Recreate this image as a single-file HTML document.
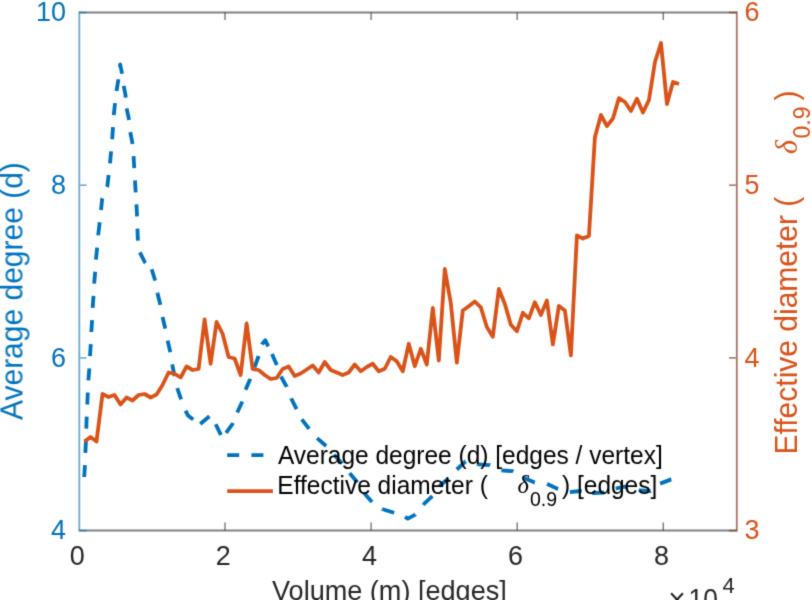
<!DOCTYPE html>
<html><head><meta charset="utf-8"><style>
html,body{margin:0;padding:0;background:#fff;}
body{width:812px;height:600px;overflow:hidden;position:relative;font-family:"Liberation Sans",sans-serif;}
</style></head><body>
<svg width="812" height="600" viewBox="0 0 812 600" style="position:absolute;left:0;top:0">
<defs><filter id="bl" x="0" y="0" width="812" height="600" filterUnits="userSpaceOnUse" color-interpolation-filters="sRGB"><feConvolveMatrix order="3" kernelMatrix="0.01917 0.10012 0.01917 0.10012 0.52283 0.10012 0.01917 0.10012 0.01917" divisor="1" edgeMode="duplicate"/></filter></defs><g filter="url(#bl)"><rect x="0" y="0" width="812" height="600" fill="#fff"/>
<line x1="79.3" y1="12.5" x2="736.8" y2="12.5" stroke="#262626" stroke-opacity="0.58" stroke-width="2"/>
<line x1="79.3" y1="530.6" x2="736.8" y2="530.6" stroke="#262626" stroke-opacity="0.58" stroke-width="2"/>
<line x1="225.00" y1="530.6" x2="225.00" y2="522.6" stroke="#262626" stroke-opacity="0.62" stroke-width="1.4"/>
<line x1="225.00" y1="12.5" x2="225.00" y2="20.0" stroke="#262626" stroke-opacity="0.62" stroke-width="1.4"/>
<line x1="371.10" y1="530.6" x2="371.10" y2="522.6" stroke="#262626" stroke-opacity="0.62" stroke-width="1.4"/>
<line x1="371.10" y1="12.5" x2="371.10" y2="20.0" stroke="#262626" stroke-opacity="0.62" stroke-width="1.4"/>
<line x1="517.20" y1="530.6" x2="517.20" y2="522.6" stroke="#262626" stroke-opacity="0.62" stroke-width="1.4"/>
<line x1="517.20" y1="12.5" x2="517.20" y2="20.0" stroke="#262626" stroke-opacity="0.62" stroke-width="1.4"/>
<line x1="663.30" y1="530.6" x2="663.30" y2="522.6" stroke="#262626" stroke-opacity="0.62" stroke-width="1.4"/>
<line x1="663.30" y1="12.5" x2="663.30" y2="20.0" stroke="#262626" stroke-opacity="0.62" stroke-width="1.4"/>
<line x1="79.3" y1="11.6" x2="79.3" y2="531.5" stroke="#0072BD" stroke-opacity="0.6" stroke-width="1.8"/>
<line x1="80.2" y1="530.60" x2="86.5" y2="530.60" stroke="#0072BD" stroke-opacity="0.6" stroke-width="1.6"/>
<line x1="80.2" y1="357.90" x2="86.5" y2="357.90" stroke="#0072BD" stroke-opacity="0.6" stroke-width="1.6"/>
<line x1="80.2" y1="185.20" x2="86.5" y2="185.20" stroke="#0072BD" stroke-opacity="0.6" stroke-width="1.6"/>
<line x1="80.2" y1="12.50" x2="86.5" y2="12.50" stroke="#0072BD" stroke-opacity="0.6" stroke-width="1.6"/>
<line x1="736.8" y1="11.6" x2="736.8" y2="531.5" stroke="rgb(123,60,43)" stroke-opacity="0.7" stroke-width="1.8"/>
<line x1="735.9" y1="530.60" x2="729" y2="530.60" stroke="rgb(123,60,43)" stroke-opacity="0.7" stroke-width="1.6"/>
<line x1="735.9" y1="357.90" x2="729" y2="357.90" stroke="rgb(123,60,43)" stroke-opacity="0.7" stroke-width="1.6"/>
<line x1="735.9" y1="185.20" x2="729" y2="185.20" stroke="rgb(123,60,43)" stroke-opacity="0.7" stroke-width="1.6"/>
<line x1="735.9" y1="12.50" x2="729" y2="12.50" stroke="rgb(123,60,43)" stroke-opacity="0.7" stroke-width="1.6"/>
<polyline points="84.20,477.00 85.00,464.40 85.40,451.60 86.00,440.60 86.30,427.70 86.70,416.70 87.30,403.90 87.80,392.00 88.40,379.60 89.40,368.00 90.00,355.60 90.80,344.00 91.40,331.00 92.10,320.00 92.70,307.00 93.50,296.00 94.30,281.80 95.20,271.70 96.10,258.00 97.10,247.90 98.30,234.10" fill="none" stroke="#0072BD" stroke-width="3.8" stroke-dasharray="12 12.2" stroke-linejoin="round"/>
<polyline points="98.30,234.10 99.50,224.00 101.10,209.40 102.20,198.80 107.30,186.50 110.00,163.30" fill="none" stroke="#0072BD" stroke-width="3.8" stroke-dasharray="12 12.2" stroke-linejoin="round"/>
<polyline points="110.00,163.30 112.20,139.20 113.80,115.00 114.90,104.20 116.70,90.00 118.30,80.00 120.20,64.50 122.30,75.00 123.40,84.20 125.50,95.00 126.60,108.30" fill="none" stroke="#0072BD" stroke-width="3.8" stroke-dasharray="12 12.2" stroke-linejoin="round"/>
<polyline points="126.60,108.30 128.80,118.30 130.20,131.70 132.30,142.50 133.50,155.00 135.25,185.00 136.90,212.50 137.75,237.50 138.60,250.00 145.00,262.50 151.70,269.20" fill="none" stroke="#0072BD" stroke-width="3.8" stroke-dasharray="12 12.2" stroke-linejoin="round"/>
<polyline points="151.70,269.20 155.00,280.00 157.50,293.30" fill="none" stroke="#0072BD" stroke-width="3.8" stroke-dasharray="12 12.2" stroke-linejoin="round"/>
<polyline points="157.50,293.30 160.00,303.30 162.50,316.70 165.00,327.50 167.50,340.00 170.00,350.80 171.70,362.00 173.50,370.80 176.70,386.50 180.80,398.30 185.00,409.80 188.00,415.50 192.50,419.00 197.00,422.50 200.25,424.00" fill="none" stroke="#0072BD" stroke-width="3.8" stroke-dasharray="12 12.2" stroke-linejoin="round"/>
<polyline points="200.25,424.00 209.60,416.10 211.30,415.20 215.25,423.25 220.50,434.10 222.90,439.50 225.75,433.40 232.50,424.00 237.25,412.50" fill="none" stroke="#0072BD" stroke-width="3.8" stroke-dasharray="12 12.2" stroke-linejoin="round"/>
<polyline points="237.25,412.50 241.75,402.70 245.50,390.00 250.00,379.50 254.50,367.50 258.25,357.00 262.00,344.25 265.30,340.30 272.00,354.00" fill="none" stroke="#0072BD" stroke-width="3.8" stroke-dasharray="12 12.2" stroke-linejoin="round"/>
<polyline points="272.00,354.00 276.70,364.70 280.70,376.00 286.70,386.70 291.30,398.70 296.70,409.30 301.80,419.40" fill="none" stroke="#0072BD" stroke-width="3.8" stroke-dasharray="12 12.2" stroke-linejoin="round"/>
<polyline points="301.80,419.40 310.00,430.00 317.00,438.00 326.30,446.20 334.00,454.70" fill="none" stroke="#0072BD" stroke-width="3.8" stroke-dasharray="12 12.2" stroke-linejoin="round"/>
<polyline points="334.00,454.70 343.30,464.70 350.00,473.50 357.00,482.00 364.00,493.00" fill="none" stroke="#0072BD" stroke-width="3.8" stroke-dasharray="12 12.2" stroke-linejoin="round"/>
<polyline points="364.00,493.00 372.70,502.70 382.70,509.30" fill="none" stroke="#0072BD" stroke-width="3.8" stroke-dasharray="12 12.2" stroke-linejoin="round"/>
<polyline points="382.70,509.30 394.00,512.70 405.00,516.80" fill="none" stroke="#0072BD" stroke-width="3.8" stroke-dasharray="12 12.2" stroke-linejoin="round"/>
<polyline points="405.00,516.80 407.80,518.60 415.40,514.60 423.50,504.30" fill="none" stroke="#0072BD" stroke-width="3.8" stroke-dasharray="12 12.2" stroke-linejoin="round"/>
<polyline points="423.50,504.30 432.40,496.10 439.80,485.80 448.60,478.40 456.80,469.50" fill="none" stroke="#0072BD" stroke-width="3.8" stroke-dasharray="12 12.2" stroke-linejoin="round"/>
<polyline points="456.80,469.50 465.60,461.40 467.80,460.60 478.20,464.40" fill="none" stroke="#0072BD" stroke-width="3.8" stroke-dasharray="12 12.2" stroke-linejoin="round"/>
<polyline points="478.20,464.40 489.60,465.10 501.40,470.30" fill="none" stroke="#0072BD" stroke-width="3.8" stroke-dasharray="12 12.2" stroke-linejoin="round"/>
<polyline points="501.40,470.30 512.50,471.20 523.60,477.70 534.70,482.60 547.20,484.00" fill="none" stroke="#0072BD" stroke-width="3.8" stroke-dasharray="12 12.2" stroke-linejoin="round"/>
<polyline points="547.20,484.00 557.50,488.70 568.60,492.20 580.40,491.00 592.20,493.20" fill="none" stroke="#0072BD" stroke-width="3.8" stroke-dasharray="12 12.2" stroke-linejoin="round"/>
<polyline points="592.20,493.20 604.00,492.50 614.30,488.80 624.70,486.60 638.70,490.30" fill="none" stroke="#0072BD" stroke-width="3.8" stroke-dasharray="12 12.2" stroke-linejoin="round"/>
<polyline points="638.70,490.30 650.50,491.00 660.10,483.60" fill="none" stroke="#0072BD" stroke-width="3.8" stroke-dasharray="12 12.2" stroke-linejoin="round"/>
<polyline points="660.10,483.60 671.20,479.40 678.50,478.00" fill="none" stroke="#0072BD" stroke-width="3.8" stroke-dasharray="12 12.2" stroke-linejoin="round"/>
<polyline points="84.50,441.50 90.50,437.00 96.51,441.50 102.52,394.00 108.52,397.00 114.53,395.00 120.53,404.50 126.53,397.50 132.54,400.50 138.55,395.00 144.55,394.00 150.56,397.50 156.56,394.50 162.56,385.00 168.57,372.50 174.57,373.75 180.58,377.50 186.58,366.50 192.59,370.00 198.59,369.00 204.60,319.50 210.61,363.80 216.61,322.00 222.62,333.75 228.62,357.00 234.62,358.50 240.63,375.00 246.63,323.50 252.64,369.00 258.64,370.00 264.65,375.00 270.65,379.00 276.66,378.00 282.66,369.00 288.67,366.50 294.67,376.00 300.68,373.50 306.69,369.50 312.69,365.50 318.69,372.50 324.70,362.00 330.70,370.00 336.71,372.50 342.71,375.00 348.72,372.50 354.73,364.50 360.73,371.25 366.74,367.00 372.74,363.75 378.75,371.25 384.75,368.75 390.75,357.00 396.76,361.25 402.76,371.25 408.77,343.75 414.77,366.25 420.78,348.75 426.78,364.50 432.79,308.00 438.80,360.50 444.80,269.00 450.81,303.00 456.81,362.70 462.81,310.50 468.82,306.30 474.82,301.50 480.83,307.40 486.83,327.00 492.84,336.70 498.84,289.00 504.85,304.00 510.86,324.80 516.86,331.30 522.87,312.80 528.87,318.30 534.88,302.20 540.88,315.00 546.88,300.40 552.89,344.40 558.89,305.90 564.90,310.50 570.90,355.40 576.91,235.50 582.91,238.50 588.92,236.00 594.92,137.20 600.93,115.00 606.93,126.10 612.94,118.50 618.94,98.10 624.95,102.00 630.96,111.00 636.96,98.70 642.97,112.50 648.97,100.00 654.98,62.00 660.98,43.00 666.99,104.00 672.99,82.00 679.00,84.00" fill="none" stroke="#D95319" stroke-width="3.8" stroke-linejoin="round"/>
<line x1="227.2" y1="455.2" x2="272.9" y2="455.2" stroke="#0072BD" stroke-width="3.8" stroke-dasharray="12 12.2"/>
<line x1="227.2" y1="491.1" x2="272.9" y2="491.1" stroke="#D95319" stroke-width="3.8"/>
<text transform="translate(77.20,564.8) scale(1,1.055)" font-size="27" fill="#262626" text-anchor="middle" style="font-family:'Liberation Sans',sans-serif"  >0</text>
<text transform="translate(223.30,564.8) scale(1,1.055)" font-size="27" fill="#262626" text-anchor="middle" style="font-family:'Liberation Sans',sans-serif"  >2</text>
<text transform="translate(369.40,564.8) scale(1,1.055)" font-size="27" fill="#262626" text-anchor="middle" style="font-family:'Liberation Sans',sans-serif"  >4</text>
<text transform="translate(515.50,564.8) scale(1,1.055)" font-size="27" fill="#262626" text-anchor="middle" style="font-family:'Liberation Sans',sans-serif"  >6</text>
<text transform="translate(661.60,564.8) scale(1,1.055)" font-size="27" fill="#262626" text-anchor="middle" style="font-family:'Liberation Sans',sans-serif"  >8</text>
<text transform="translate(66,539.20) scale(1,1.04)" font-size="27" fill="#0072BD" text-anchor="end" style="font-family:'Liberation Sans',sans-serif"  >4</text>
<text transform="translate(66,366.50) scale(1,1.04)" font-size="27" fill="#0072BD" text-anchor="end" style="font-family:'Liberation Sans',sans-serif"  >6</text>
<text transform="translate(66,193.80) scale(1,1.04)" font-size="27" fill="#0072BD" text-anchor="end" style="font-family:'Liberation Sans',sans-serif"  >8</text>
<text transform="translate(66,21.10) scale(1,1.04)" font-size="27" fill="#0072BD" text-anchor="end" style="font-family:'Liberation Sans',sans-serif"  >10</text>
<text transform="translate(744.5,539.20) scale(1,1.04)" font-size="27" fill="#D95319" text-anchor="start" style="font-family:'Liberation Sans',sans-serif"  >3</text>
<text transform="translate(744.5,366.50) scale(1,1.04)" font-size="27" fill="#D95319" text-anchor="start" style="font-family:'Liberation Sans',sans-serif"  >4</text>
<text transform="translate(744.5,193.80) scale(1,1.04)" font-size="27" fill="#D95319" text-anchor="start" style="font-family:'Liberation Sans',sans-serif"  >5</text>
<text transform="translate(744.5,21.10) scale(1,1.04)" font-size="27" fill="#D95319" text-anchor="start" style="font-family:'Liberation Sans',sans-serif"  >6</text>
<text transform="translate(272.0,599.8) scale(1,1.04)" font-size="27.1" fill="#262626" text-anchor="start" style="font-family:'Liberation Sans',sans-serif"  >Volume (m) [edges]</text>
<text transform="translate(668.2,610) scale(1,1.04)" font-size="30" fill="#262626" text-anchor="start" style="font-family:'Liberation Sans',sans-serif"  >×</text>
<text transform="translate(688.5,607.8) scale(1,1.04)" font-size="26.3" fill="#262626" text-anchor="start" style="font-family:'Liberation Sans',sans-serif"  >10</text>
<text transform="translate(722.5,593) scale(1,1.04)" font-size="22" fill="#262626" text-anchor="start" style="font-family:'Liberation Sans',sans-serif"  >4</text>
<text transform="translate(22.6,420) rotate(-90) scale(1,1.04)" font-size="30" fill="#0072BD" style="font-family:'Liberation Sans',sans-serif" >Average degree (d)</text>
<text transform="translate(796.8,454.5) rotate(-90) scale(1,1.04)" font-size="30" fill="#D95319" style="font-family:'Liberation Sans',sans-serif" >Effective diameter (</text>
<text transform="translate(796.8,154) rotate(-90) scale(1,1.04)" font-size="30" fill="#D95319" style="font-family:'Liberation Serif',serif;font-style:italic" >δ</text>
<text transform="translate(810,138.5) rotate(-90) scale(1,1.04)" font-size="23" fill="#D95319" style="font-family:'Liberation Sans',sans-serif" >0.9</text>
<text transform="translate(796.8,100.5) rotate(-90) scale(1,1.04)" font-size="30" fill="#D95319" style="font-family:'Liberation Sans',sans-serif" >)</text>
<text transform="translate(277.9,463.7) scale(1,1.04)" font-size="24.5" fill="#000" text-anchor="start" style="font-family:'Liberation Sans',sans-serif"  >Average degree (d) [edges / vertex]</text>
<text transform="translate(277.291,493.7) scale(1,1.04)" font-size="24.5" fill="#000" text-anchor="start" style="font-family:'Liberation Sans',sans-serif"  >Effective diameter (</text>
<text transform="translate(517.5,493.3) scale(1,1.04)" font-size="24.5" fill="#000" text-anchor="start" style="font-family:'Liberation Serif',serif;font-style:italic"  >δ</text>
<text transform="translate(530,506) scale(1,1.04)" font-size="19.5" fill="#000" text-anchor="start" style="font-family:'Liberation Sans',sans-serif"  >0.9</text>
<text transform="translate(562,493.7) scale(1,1.04)" font-size="24.5" fill="#000" text-anchor="start" style="font-family:'Liberation Sans',sans-serif"  >) [edges]</text>
</g></svg>
</body></html>
